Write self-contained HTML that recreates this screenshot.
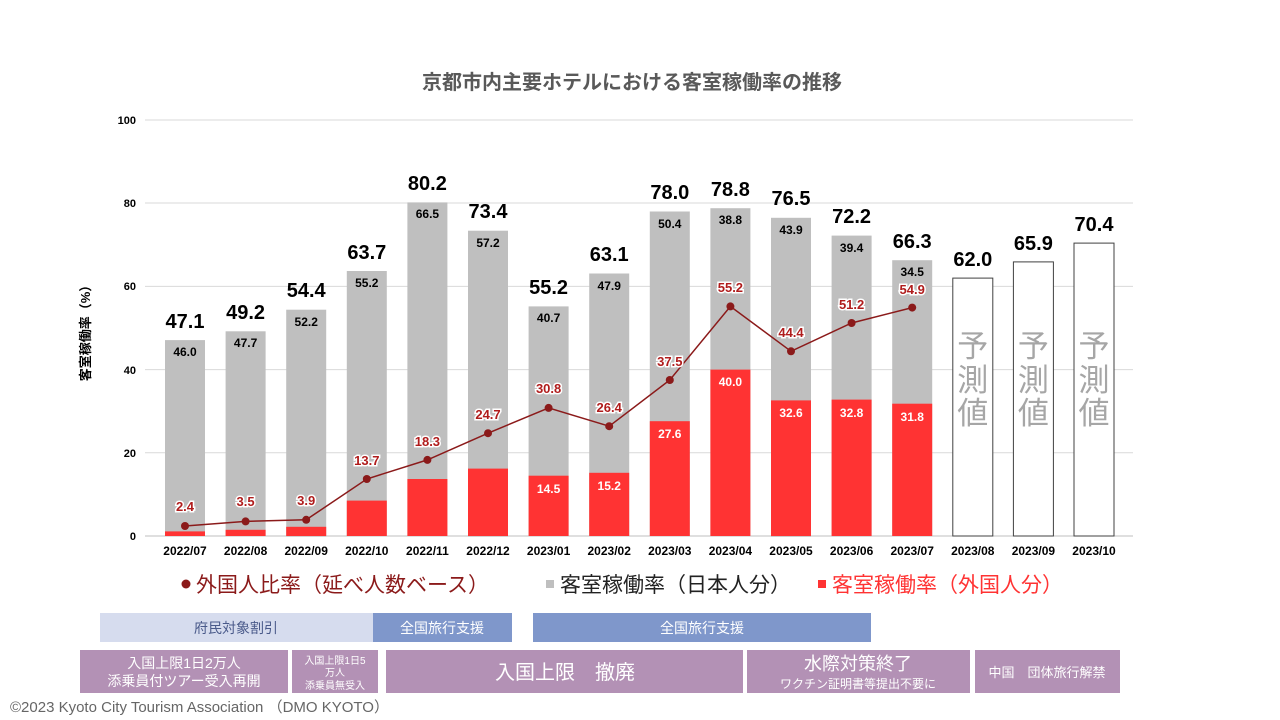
<!DOCTYPE html>
<html><head><meta charset="utf-8"><style>
body{margin:0;background:#fff;}
svg{display:block;font-family:"Liberation Sans","Noto Sans CJK JP",sans-serif;}
</style></head><body>
<svg width="1280" height="720" viewBox="0 0 1280 720">
<text x="632" y="89" text-anchor="middle" font-size="20" font-weight="bold" fill="#595959">京都市内主要ホテルにおける客室稼働率の推移</text>
<g stroke="#d9d9d9" stroke-width="1">
<line x1="145" y1="120" x2="1133" y2="120"/><line x1="145" y1="203" x2="1133" y2="203"/><line x1="145" y1="286.4" x2="1133" y2="286.4"/><line x1="145" y1="369.6" x2="1133" y2="369.6"/><line x1="145" y1="452.8" x2="1133" y2="452.8"/>
</g>
<line x1="145" y1="536" x2="1133" y2="536" stroke="#bfbfbf"/>
<g font-size="11" font-weight="bold" text-anchor="end" fill="#000">
<text x="136" y="124">100</text><text x="136" y="207">80</text><text x="136" y="290">60</text><text x="136" y="374">40</text><text x="136" y="457">20</text><text x="136" y="540">0</text>
</g>
<text transform="translate(90,330) rotate(-90)" text-anchor="middle" font-size="13" font-weight="bold">客室稼働率（%）</text>
<g fill="#bfbfbf">
<rect x="165" y="340.1" width="40" height="196"/><rect x="225.6" y="331.3" width="40" height="205"/><rect x="286.2" y="309.7" width="40" height="227"/><rect x="346.8" y="271" width="40" height="265"/><rect x="407.4" y="202.4" width="40" height="334"/><rect x="468" y="230.7" width="40" height="306"/><rect x="528.6" y="306.4" width="40" height="230"/><rect x="589.2" y="273.5" width="40" height="263"/><rect x="649.8" y="211.5" width="40" height="325"/><rect x="710.4" y="208.2" width="40" height="328"/><rect x="771" y="217.8" width="40" height="319"/><rect x="831.6" y="235.6" width="40" height="301"/><rect x="892.2" y="260.2" width="40" height="276"/>
</g>
<g fill="#ff3333">
<rect x="165" y="531.4" width="40" height="4.6"/><rect x="225.6" y="529.8" width="40" height="6.2"/><rect x="286.2" y="526.8" width="40" height="9.2"/><rect x="346.8" y="500.6" width="40" height="35.4"/><rect x="407.4" y="479" width="40" height="57"/><rect x="468" y="468.6" width="40" height="67.4"/><rect x="528.6" y="475.7" width="40" height="60.3"/><rect x="589.2" y="472.8" width="40" height="63.2"/><rect x="649.8" y="421.2" width="40" height="114.8"/><rect x="710.4" y="369.6" width="40" height="166.4"/><rect x="771" y="400.4" width="40" height="135.6"/><rect x="831.6" y="399.6" width="40" height="136.4"/><rect x="892.2" y="403.7" width="40" height="132.3"/>
</g>
<g fill="#fff" stroke="#404040" stroke-width="1">
<rect x="952.8" y="278.1" width="40" height="257.9"/><rect x="1013.4" y="261.9" width="40" height="274.1"/><rect x="1074" y="243.1" width="40" height="292.9"/>
</g>
<g font-size="31" fill="#a6a6a6" text-anchor="middle">
<text x="972.8" y="357">予</text><text x="972.8" y="391">測</text><text x="972.8" y="424">値</text>
<text x="1033.4" y="357">予</text><text x="1033.4" y="391">測</text><text x="1033.4" y="424">値</text>
<text x="1094" y="357">予</text><text x="1094" y="391">測</text><text x="1094" y="424">値</text>
</g>
<g font-size="20" font-weight="bold" text-anchor="middle" fill="#000">
<text x="185" y="328">47.1</text><text x="245.6" y="319">49.2</text><text x="306.2" y="297">54.4</text><text x="366.8" y="259">63.7</text><text x="427.4" y="190">80.2</text><text x="488" y="218">73.4</text><text x="548.6" y="294">55.2</text><text x="609.2" y="261">63.1</text><text x="669.8" y="199">78.0</text><text x="730.4" y="196">78.8</text><text x="791" y="205">76.5</text><text x="851.6" y="223">72.2</text><text x="912.2" y="248">66.3</text><text x="972.8" y="266">62.0</text><text x="1033.4" y="250">65.9</text><text x="1094" y="231">70.4</text>
</g>
<g font-size="12" font-weight="bold" text-anchor="middle" fill="#000">
<text x="185" y="356">46.0</text><text x="245.6" y="347">47.7</text><text x="306.2" y="326">52.2</text><text x="366.8" y="287">55.2</text><text x="427.4" y="218">66.5</text><text x="488" y="247">57.2</text><text x="548.6" y="322">40.7</text><text x="609.2" y="290">47.9</text><text x="669.8" y="228">50.4</text><text x="730.4" y="224">38.8</text><text x="791" y="234">43.9</text><text x="851.6" y="252">39.4</text><text x="912.2" y="276">34.5</text>
</g>
<g font-size="12" font-weight="bold" text-anchor="middle" fill="#fff">
<text x="548.6" y="493">14.5</text><text x="609.2" y="490">15.2</text><text x="669.8" y="438">27.6</text><text x="730.4" y="386">40.0</text><text x="791" y="417">32.6</text><text x="851.6" y="417">32.8</text><text x="912.2" y="421">31.8</text>
</g>
<polyline fill="none" stroke="#8b1a1a" stroke-width="1.5" points="185,526 245.6,521.4 306.2,519.8 366.8,479 427.4,459.9 488,433.2 548.6,407.9 609.2,426.2 669.8,380 730.4,306.4 791,351.3 851.6,323 912.2,307.6"/>
<g fill="#8b1a1a">
<circle cx="185" cy="526" r="4"/><circle cx="245.6" cy="521.4" r="4"/><circle cx="306.2" cy="519.8" r="4"/><circle cx="366.8" cy="479" r="4"/><circle cx="427.4" cy="459.9" r="4"/><circle cx="488" cy="433.2" r="4"/><circle cx="548.6" cy="407.9" r="4"/><circle cx="609.2" cy="426.2" r="4"/><circle cx="669.8" cy="380" r="4"/><circle cx="730.4" cy="306.4" r="4"/><circle cx="791" cy="351.3" r="4"/><circle cx="851.6" cy="323" r="4"/><circle cx="912.2" cy="307.6" r="4"/>
</g>
<g font-size="13" font-weight="bold" text-anchor="middle" fill="#b01c1c" stroke="#fff" stroke-width="3" paint-order="stroke">
<text x="185" y="511">2.4</text><text x="245.6" y="506">3.5</text><text x="306.2" y="505">3.9</text><text x="366.8" y="465">13.7</text><text x="427.4" y="446">18.3</text><text x="488" y="419">24.7</text><text x="548.6" y="393">30.8</text><text x="609.2" y="412">26.4</text><text x="669.8" y="366">37.5</text><text x="730.4" y="292">55.2</text><text x="791" y="337">44.4</text><text x="851.6" y="309">51.2</text><text x="912.2" y="294">54.9</text>
</g>
<g font-size="12" font-weight="bold" text-anchor="middle" fill="#000">
<text x="185" y="555">2022/07</text><text x="245.6" y="555">2022/08</text><text x="306.2" y="555">2022/09</text><text x="366.8" y="555">2022/10</text><text x="427.4" y="555">2022/11</text><text x="488" y="555">2022/12</text><text x="548.6" y="555">2023/01</text><text x="609.2" y="555">2023/02</text><text x="669.8" y="555">2023/03</text><text x="730.4" y="555">2023/04</text><text x="791" y="555">2023/05</text><text x="851.6" y="555">2023/06</text><text x="912.2" y="555">2023/07</text><text x="972.8" y="555">2023/08</text><text x="1033.4" y="555">2023/09</text><text x="1094" y="555">2023/10</text>
</g>
<circle cx="186" cy="584" r="4.5" fill="#8b1a1a"/>
<text x="196" y="592" font-size="21" fill="#8b1a1a">外国人比率（延べ人数ベース）</text>
<rect x="546" y="580" width="8" height="8" fill="#bfbfbf"/>
<text x="560" y="592" font-size="21" fill="#222">客室稼働率（日本人分）</text>
<rect x="818" y="580" width="8" height="8" fill="#ff3333"/>
<text x="832" y="592" font-size="21" fill="#ff3333">客室稼働率（外国人分）</text>
<rect x="100" y="613" width="273" height="29" fill="#d6dcee"/>
<rect x="373" y="613" width="139" height="29" fill="#7f97cb"/>
<rect x="533" y="613" width="338" height="29" fill="#7f97cb"/>
<g font-size="14" text-anchor="middle">
<text x="236" y="633" fill="#4a5a8a">府民対象割引</text>
<text x="442" y="633" fill="#fff">全国旅行支援</text>
<text x="702" y="633" fill="#fff">全国旅行支援</text>
</g>
<g fill="#b391b5">
<rect x="80" y="650" width="208" height="43"/><rect x="292" y="650" width="86" height="43"/><rect x="386" y="650" width="357" height="43"/><rect x="747" y="650" width="223" height="43"/><rect x="975" y="650" width="145" height="43"/>
</g>
<g fill="#fff" text-anchor="middle">
<text x="184" y="668" font-size="14">入国上限1日2万人</text>
<text x="184" y="686" font-size="14">添乗員付ツアー受入再開</text>
<text x="335" y="664" font-size="10">入国上限1日5</text>
<text x="335" y="676" font-size="10">万人</text>
<text x="335" y="689" font-size="10">添乗員無受入</text>
<text x="565" y="679" font-size="20">入国上限　撤廃</text>
<text x="858" y="670" font-size="18">水際対策終了</text>
<text x="858" y="688" font-size="12">ワクチン証明書等提出不要に</text>
<text x="1047" y="677" font-size="13">中国　団体旅行解禁</text>
</g>
<text x="10" y="712" font-size="15" fill="#666">©2023 Kyoto City Tourism Association （DMO KYOTO）</text>
</svg>
</body></html>
